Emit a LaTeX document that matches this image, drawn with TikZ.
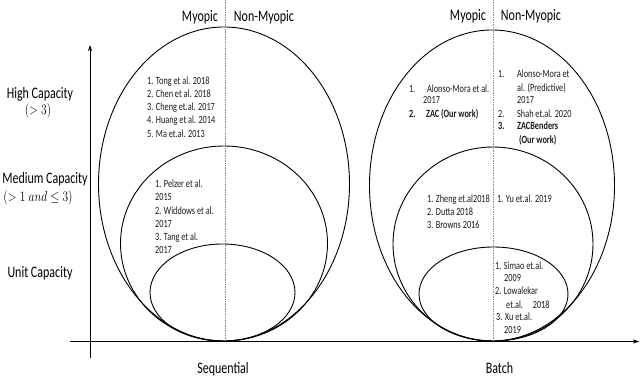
\documentclass[tikz,border=0pt]{standalone}
\usepackage{fontspec}
\setmainfont{Carlito}
\usetikzlibrary{shapes.geometric,arrows.meta}
\newcommand{\cz}[1]{\scalebox{0.75}[1]{#1}}
\newcommand{\cm}[1]{\scalebox{0.8}[1]{#1}}
\begin{document}
\begin{tikzpicture}[x=1pt,y=-1pt,
  ell/.style={draw, ellipse, inner sep=0pt, line width=0.9pt},
  lst/.style={anchor=base west, inner sep=0pt, text=black!90, font=\fontsize{11}{12}\selectfont},
  lstb/.style={lst, font=\bfseries\fontsize{11}{12}\selectfont},
  lab/.style={inner sep=0pt, align=center, font=\fontsize{16}{18}\selectfont},
  mlab/.style={inner sep=0pt, align=center, font=\fontsize{13.5}{16}\selectfont},
  divider/.style={draw=black!45, densely dotted, line width=0.7pt},
  axis/.style={draw, line width=0.8pt, -{Stealth[length=6pt,width=4pt]}}]
\useasboundingbox (0,0) rectangle (640,379);
% ellipses
\node[ell, minimum width=251pt, minimum height=314pt] (bigL) at (224,184) {};
\node[ell, minimum width=207pt, minimum height=195pt] (medL) at (224,243.5) {};
\node[ell, minimum width=145pt, minimum height=97pt] (unitL) at (222.5,292.5) {};
\node[ell, minimum width=245pt, minimum height=311pt] (bigR) at (492,185.5) {};
\node[ell, minimum width=200pt, minimum height=194pt] (medR) at (493,244) {};
\node[ell, minimum width=149pt, minimum height=94pt] (unitR) at (493.5,294) {};
% dividers
\coordinate (dLt) at (225,0); \coordinate (dLb) at (225,341);
\coordinate (dRt) at (493,0); \coordinate (dRb) at (493,341);
\draw[divider] (dLt) -- (dLb);
\draw[divider] (dRt) -- (dRb);
% axes
\coordinate (yb) at (90,358); \coordinate (yt) at (90,45);
\coordinate (xl) at (70,341.5); \coordinate (xr) at (639,341.5);
\draw[axis] (yb) -- (yt);
\draw[axis] (xl) -- (xr);
% top labels
\node[lab] (myL) at (200,17) {\cz{Myopic}};
\node[lab] (nmyL) at (264,17) {\cz{Non-Myopic}};
\node[lab] (myR) at (468,16) {\cz{Myopic}};
\node[lab] (nmyR) at (531,16) {\cz{Non-Myopic}};
% left labels
\node[lab] (hc) at (40,94) {\cz{High Capacity}};
\node[mlab] (hcv) at (38,110.5) {\cm{$(>3)$}};
\node[lab] (mc) at (45,179) {\cz{Medium Capacity}};
\node[mlab] (mcv) at (38,198) {\cm{$(>1\;and\leq3)$}};
\node[lab] (uc) at (40,273) {\cz{Unit Capacity}};
% bottom labels
\node[lab] (seq) at (223,369) {\cz{Sequential}};
\node[lab] (bat) at (499.5,368.5) {\cz{Batch}};
% left high
\node[lst] (a1) at (147,85) {\cz{1. Tong et al. 2018}};
\node[lst] (a2) at (147,97.3) {\cz{2. Chen et al. 2018}};
\node[lst] (a3) at (147,110.5) {\cz{3. Cheng et.al. 2017}};
\node[lst] (a4) at (147,123.9) {\cz{4. Huang et al. 2014}};
\node[lst] (a5) at (147,137.2) {\cz{5. Ma et.al. 2013}};
% left medium
\node[lst] (b1) at (155,187.7) {\cz{1. Pelzer et al.}};
\node[lst] (b2) at (155,200.5) {\cz{2015}};
\node[lst] (b3) at (155,214.5) {\cz{2. Widdows et al.}};
\node[lst] (b4) at (155,227.2) {\cz{2017}};
\node[lst] (b5) at (155,240.5) {\cz{3. Tang et al.}};
\node[lst] (b6) at (155,253.2) {\cz{2017}};
% right high myopic
\node[lst] (c1n) at (409,92.3) {\cz{1.}};
\node[lst] (c1) at (427,92.3) {\cz{Alonso-Mora et al.}};
\node[lst] (c1b) at (423,103.2) {\cz{2017}};
\node[lstb] (c2n) at (409,117.2) {\cz{2.}};
\node[lstb] (c2) at (426,117.2) {\cz{ZAC (Our work)}};
% right high non-myopic
\node[lst] (d1n) at (498,77.2) {\cz{1.}};
\node[lst] (d1) at (517,77.2) {\cz{Alonso-Mora et}};
\node[lst] (d1b) at (517,91.5) {\cz{al. (Predictive)}};
\node[lst] (d1c) at (517,103.2) {\cz{2017}};
\node[lst] (d2n) at (498,117.2) {\cz{2.}};
\node[lst] (d2) at (517,117.2) {\cz{Shah et.al. 2020}};
\node[lstb] (d3n) at (498,129.9) {\cz{3.}};
\node[lstb] (d3) at (517,129.9) {\cz{ZACBenders}};
\node[lstb] (d3b) at (519,143.9) {\cz{(Our work)}};
% right medium
\node[lst] (e1) at (427,202.2) {\cz{1. Zheng et.al2018}};
\node[lst] (e2) at (427,215.7) {\cz{2. Dutta 2018}};
\node[lst] (e3) at (427,228.2) {\cz{3. Browns 2016}};
\node[lst] (f1) at (497,202.2) {\cz{1. Yu et.al. 2019}};
% right unit
\node[lst] (g1) at (495,269.9) {\cz{1. Simao et.al.}};
\node[lst] (g1b) at (504,281.5) {\cz{2009}};
\node[lst] (g2) at (495,294.9) {\cz{2. Lowalekar}};
\node[lst] (g2b) at (506,308.2) {\cz{et.al.\hspace{1.2em}2018}};
\node[lst] (g3) at (496,320.5) {\cz{3. Xu et.al.}};
\node[lst] (g3b) at (504,333.2) {\cz{2019}};
\end{tikzpicture}
\end{document}
